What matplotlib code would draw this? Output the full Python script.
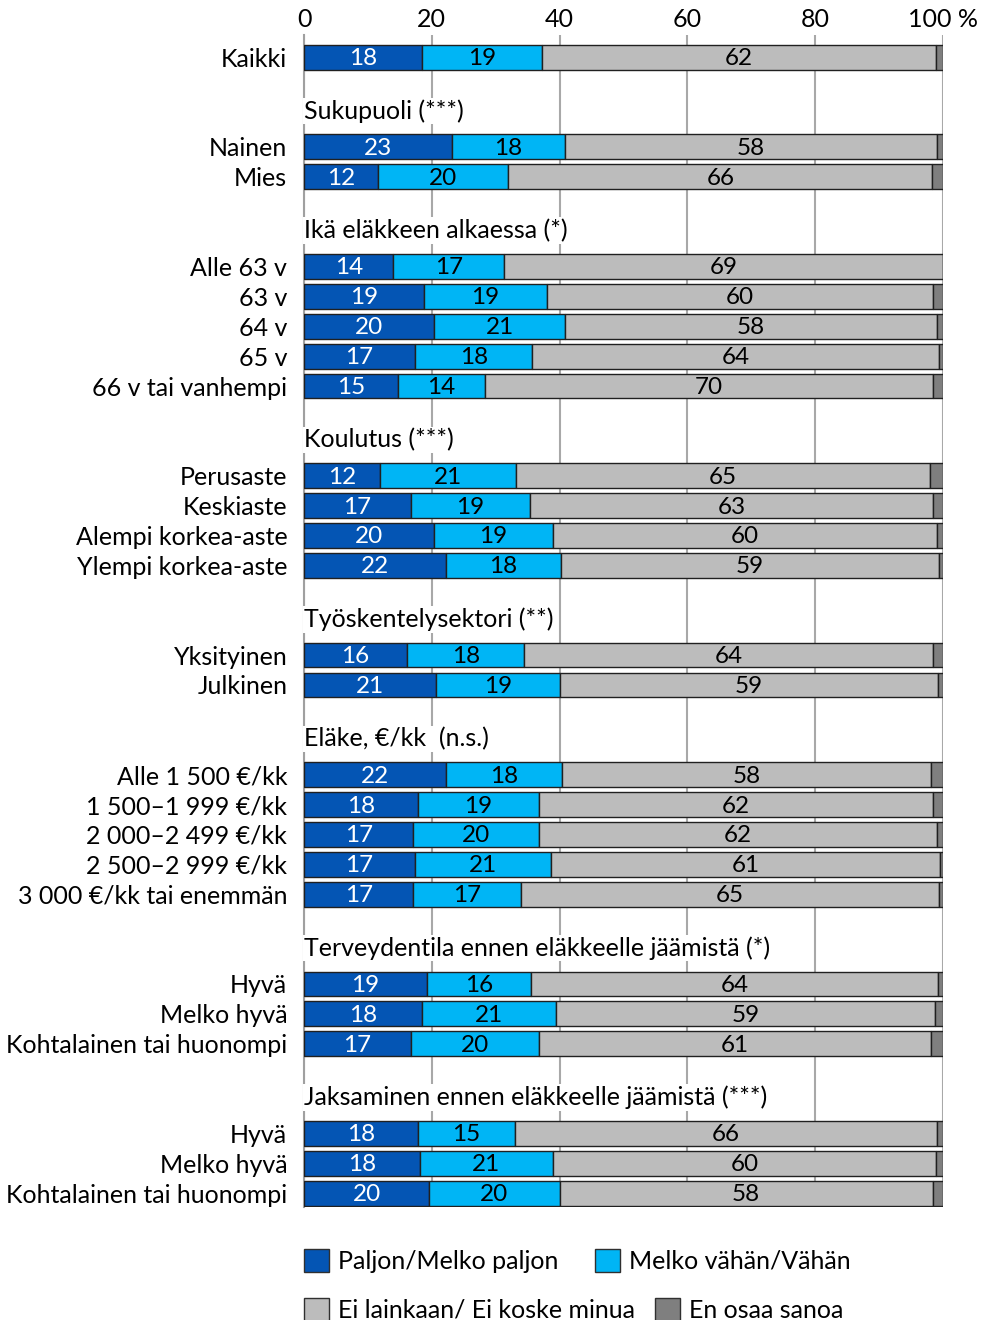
import matplotlib
matplotlib.use('Agg')
import matplotlib.pyplot as plt
from matplotlib.patches import Patch

plt.rcParams['font.family'] = ['Lato', 'DejaVu Sans']

# Groups: header text (None for the first row) and the row labels
headers = [None, 'Sukupuoli (***)', 'Ikä eläkkeen alkaessa (*)', 'Koulutus (***)',
           'Työskentelysektori (**)', 'Eläke, €/kk  (n.s.)',
           'Terveydentila ennen eläkkeelle jäämistä (*)',
           'Jaksaminen ennen eläkkeelle jäämistä (***)']
row_labels = [
    ['Kaikki'],
    ['Nainen', 'Mies'],
    ['Alle 63 v', '63 v', '64 v', '65 v', '66 v tai vanhempi'],
    ['Perusaste', 'Keskiaste', 'Alempi korkea-aste', 'Ylempi korkea-aste'],
    ['Yksityinen', 'Julkinen'],
    ['Alle 1 500 €/kk', '1 500–1 999 €/kk', '2 000–2 499 €/kk', '2 500–2 999 €/kk',
     '3 000 €/kk tai enemmän'],
    ['Hyvä', 'Melko hyvä', 'Kohtalainen tai huonompi'],
    ['Hyvä', 'Melko hyvä', 'Kohtalainen tai huonompi'],
]

# Shares (%) per row
paljon = [18.4, 23.1, 11.6, 14.0, 18.8, 20.3, 17.4, 14.7, 11.9, 16.7, 20.3, 22.2,
          16.1, 20.7, 22.3, 17.9, 17.1, 17.4, 17.1, 19.2, 18.4, 16.7, 17.8, 18.1, 19.6]
vahan = [18.8, 17.7, 20.4, 17.3, 19.2, 20.6, 18.3, 13.6, 21.3, 18.7, 18.6, 18.0,
         18.4, 19.3, 18.1, 18.8, 19.6, 21.3, 16.9, 16.4, 21.0, 20.1, 15.2, 20.9, 20.4]
ei_lainkaan = [61.7, 58.2, 66.3, 68.7, 60.4, 58.1, 63.6, 70.2, 64.7, 63.0, 60.2, 59.2,
               63.9, 59.2, 57.7, 61.8, 62.3, 60.8, 65.4, 63.6, 59.4, 61.3, 66.0, 59.9, 58.4]
eos = [1.1, 1.0, 1.7, 0.0, 1.6, 1.0, 0.7, 1.5, 2.1, 1.6, 0.9, 0.6,
       1.6, 0.8, 1.9, 1.5, 1.0, 0.5, 0.6, 0.8, 1.2, 1.9, 1.0, 1.1, 1.6]

series_names = ['Paljon/Melko paljon', 'Melko vähän/Vähän',
                'Ei lainkaan/ Ei koske minua', 'En osaa sanoa']
colors = ['#0455B4', '#00B5F5', '#BCBCBC', '#7F7F7F']
text_colors = ['white', 'black', 'black', None]

# row positions: groups separated by 3 row steps, header a bit above the group
ypos, labels, header_pos = [], [], []
y = 0
for gi, rows in enumerate(row_labels):
    if gi > 0:
        y += 3
        header_pos.append(y - 1.23)
    for lab in rows:
        ypos.append(y)
        labels.append(lab)
        y += 1
    y -= 1

W, H = 988, 1320
fig = plt.figure(figsize=(W / 100, H / 100), dpi=100)
ax = fig.add_axes([304 / W, 1 - 1207 / H, (943 - 304) / W, (1207 - 35) / H])

fs = 18
bar_h = 0.83
left = [0.0] * len(ypos)
for vals, col, tcol in zip([paljon, vahan, ei_lainkaan, eos], colors, text_colors):
    ax.barh(ypos, vals, left=left, height=bar_h, color=col, edgecolor='#202020',
            linewidth=1.0, zorder=3)
    if tcol is not None:
        for yy, v, l in zip(ypos, vals, left):
            ax.text(l + v / 2, yy + 0.05, f'{round(v)}', ha='center', va='center',
                    color=tcol, fontsize=fs - 0.5, zorder=4)
    left = [l + v for l, v in zip(left, vals)]

for hy, htxt in zip(header_pos, headers[1:]):
    ax.text(0, hy + 0.03, htxt, ha='left', va='center', fontsize=fs, zorder=4,
            bbox=dict(facecolor='white', edgecolor='none', pad=1))

ax.set_xlim(0, 100)
ax.set_ylim(38.46, -0.74)
ax.set_yticks(ypos)
ax.set_yticklabels(labels, fontsize=fs)
ax.tick_params(axis='y', length=0, pad=12)
ax.xaxis.tick_top()
ax.set_xticks([0, 20, 40, 60, 80, 100])
ax.set_xticklabels(['0', '20', '40', '60', '80', '100 %'], fontsize=fs)
ax.tick_params(axis='x', length=0, pad=3)
ax.grid(axis='x', color='#A8A8A8', linewidth=1.5, zorder=0)
ax.set_axisbelow(True)
for s in ['top', 'right', 'bottom']:
    ax.spines[s].set_visible(False)
ax.spines['left'].set_color('#A0A0A0')
ax.spines['left'].set_linewidth(1.5)

# legend, Excel style flowing over two lines
leg_pos = [(304, 1261), (595, 1261), (304, 1310), (655, 1310)]
for name, col, (lx, ly) in zip(series_names, colors, leg_pos):
    fig.legend(handles=[Patch(facecolor=col, edgecolor='#303030', linewidth=1.0)],
               labels=[name], loc='center left', bbox_to_anchor=(lx / W, 1 - ly / H),
               frameon=False, fontsize=fs, borderpad=0, borderaxespad=0,
               handlelength=1.0, handleheight=1.0, handletextpad=0.35)

fig.savefig('out.png', dpi=100)
